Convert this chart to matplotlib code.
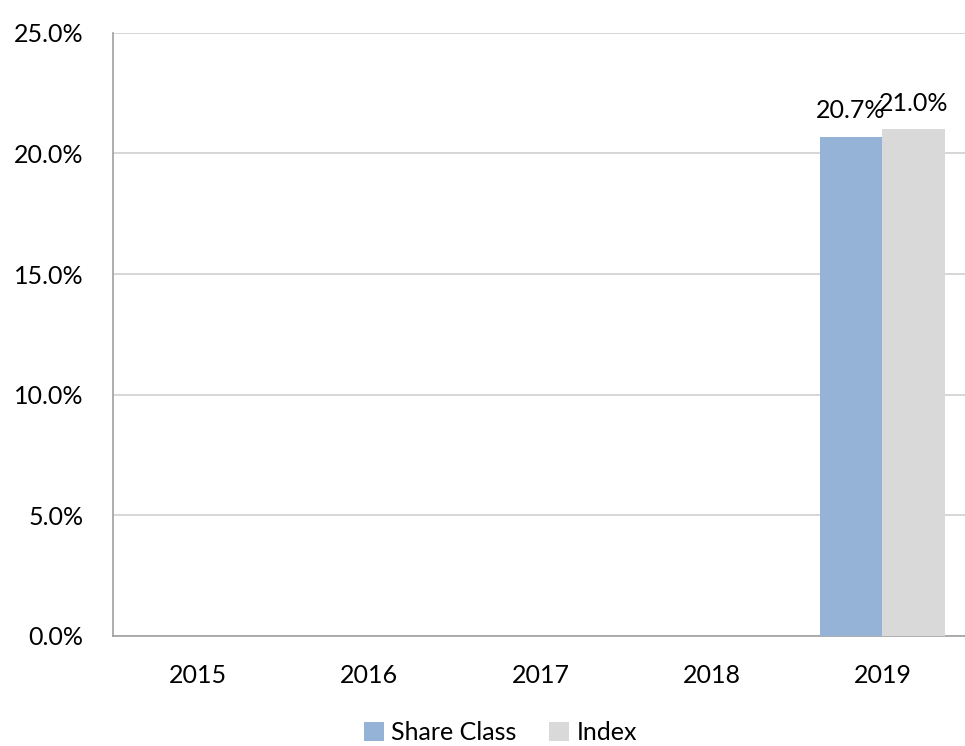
import matplotlib
matplotlib.use('Agg')
import matplotlib.pyplot as plt
import numpy as np
from matplotlib.ticker import PercentFormatter

plt.rcParams['font.family'] = ['Lato', 'DejaVu Sans']

years = ['2015', '2016', '2017', '2018', '2019']
share_class = [np.nan, np.nan, np.nan, np.nan, 20.7]
index_vals = [np.nan, np.nan, np.nan, np.nan, 21.0]

fig = plt.figure(figsize=(9.65, 7.46), dpi=100)
ax = fig.add_axes([0.117, 0.1475, 0.886, 0.8085])

x = np.arange(len(years))
w = 0.366
b1 = ax.bar(x - w / 2, share_class, w, color='#95B3D7', label='Share Class', zorder=3)
b2 = ax.bar(x + w / 2, index_vals, w, color='#D9D9D9', label='Index', zorder=3)

for bars, vals in ((b1, share_class), (b2, index_vals)):
    for rect, v in zip(bars, vals):
        if not np.isnan(v):
            ax.text(rect.get_x() + rect.get_width() / 2, v + 0.6, f'{v:.1f}%',
                    ha='center', va='bottom', fontsize=18)

ax.set_xlim(-0.5, len(years) - 0.5)
ax.set_ylim(0, 25)
ax.set_yticks(np.arange(0, 26, 5))
ax.yaxis.set_major_formatter(PercentFormatter(decimals=1))
ax.set_xticks(x)
ax.set_xticklabels(years)
ax.tick_params(axis='both', length=0, labelsize=18)
ax.tick_params(axis='x', pad=20)
ax.tick_params(axis='y', pad=21)
ax.grid(axis='y', color='#D0D0D0', linewidth=1.2, zorder=0)
for s in ('top', 'right'):
    ax.spines[s].set_visible(False)
for s in ('left', 'bottom'):
    ax.spines[s].set_color('#A0A0A0')
    ax.spines[s].set_linewidth(1.2)

ax.legend(loc='center', bbox_to_anchor=(0.453, -0.16), ncol=2, frameon=False,
          fontsize=18, handlelength=0.8, handleheight=0.8, handletextpad=0.3,
          columnspacing=1.3, borderaxespad=0, borderpad=0)

fig.savefig('out.png', dpi=100)
